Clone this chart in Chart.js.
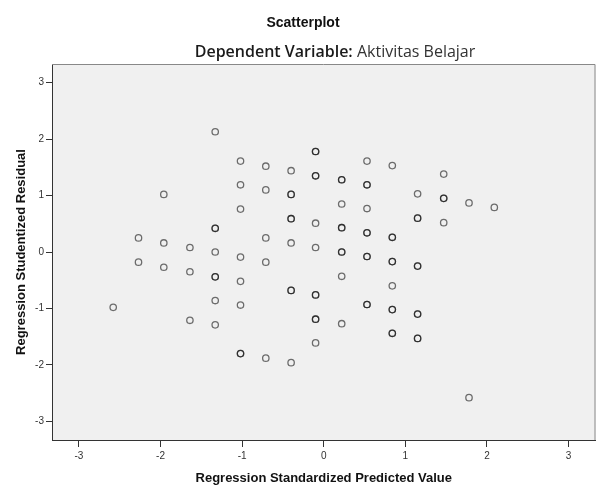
<!DOCTYPE html>
<html>
<head>
<meta charset="utf-8">
<script src="https://cdn.jsdelivr.net/npm/chart.js@4.4.0/dist/chart.umd.min.js"></script>
<style>
html, body { margin: 0; padding: 0; background: #fff; }
#wrap { width: 600px; height: 486px; position: relative; }
</style>
</head>
<body>
<div id="wrap"><canvas id="scatter"></canvas></div>
<script>
// x columns of predicted values, and the residuals found in each column
// (a value listed twice is two cases on the same spot, it shows darker)
var predictedCols = [-2.58, -2.27, -1.96, -1.64, -1.33, -1.02, -0.71, -0.40, -0.10, 0.22, 0.53, 0.84, 1.15, 1.47, 1.78, 2.09];
var residualCols = [
    [-0.98],
    [0.25, -0.18],
    [1.02, 0.16, -0.27],
    [0.08, -0.35, -1.21],
    [2.13, 0.42, 0.42, 0.00, -0.44, -0.44, -0.86, -1.29],
    [1.61, 1.19, 0.76, -0.09, -0.52, -0.94, -1.80, -1.80],
    [1.52, 1.10, 0.25, -0.18, -1.88],
    [1.44, 1.02, 1.02, 0.59, 0.59, 0.16, -0.68, -0.68, -1.96],
    [1.78, 1.78, 1.35, 1.35, 0.51, 0.08, -0.76, -0.76, -1.19, -1.19, -1.61],
    [1.28, 1.28, 0.85, 0.43, 0.43, 0.00, 0.00, -0.43, -1.27],
    [1.61, 1.19, 1.19, 0.77, 0.34, 0.34, -0.08, -0.08, -0.93, -0.93],
    [1.53, 0.26, 0.26, -0.17, -0.17, -0.60, -1.02, -1.02, -1.44, -1.44],
    [1.03, 0.60, 0.60, -0.25, -0.25, -1.10, -1.10, -1.53, -1.53],
    [1.38, 0.95, 0.95, 0.52],
    [0.87, -2.58],
    [0.79]
];
var tickValues = [-3, -2, -1, 0, 1, 2, 3];
var xRange = [-3.33, 3.33];
var yRange = [-3.33, 3.33];

var points = [];
for (var i = 0; i < predictedCols.length; i++) {
    for (var j = 0; j < residualCols[i].length; j++) {
        points.push({ x: predictedCols[i], y: residualCols[i][j] });
    }
}

var fontFam = '"Liberation Sans", Arial, sans-serif';

var frame = {
    id: 'frame',
    beforeDraw: function (chart) {
        var a = chart.chartArea, ctx = chart.ctx;
        ctx.save();
        ctx.fillStyle = '#f0f0f0';
        ctx.fillRect(a.left, a.top, a.right - a.left, a.bottom - a.top);
        ctx.restore();
    },
    afterDraw: function (chart) {
        var a = chart.chartArea, ctx = chart.ctx;
        ctx.save();
        ctx.strokeStyle = '#888';
        ctx.lineWidth = 1;
        ctx.beginPath();
        ctx.moveTo(a.left, a.top + 0.5);
        ctx.lineTo(a.right - 0.5, a.top + 0.5);
        ctx.lineTo(a.right - 0.5, a.bottom);
        ctx.stroke();

        // titles
        ctx.textBaseline = 'alphabetic';
        ctx.textAlign = 'center';
        ctx.fillStyle = '#111';
        ctx.font = 'bold 14px ' + fontFam;
        ctx.fillText('Scatterplot', 303, 27);

        var p1 = 'Dependent Variable:', p2 = ' Aktivitas Belajar';
        var f1 = '600 16px "Open Sans", sans-serif', f2 = '400 16px "Open Sans", sans-serif';
        ctx.font = f1;
        var w1 = ctx.measureText(p1).width;
        ctx.font = f2;
        var w2 = ctx.measureText(p2).width;
        var x0 = 335 - (w1 + w2) / 2;
        ctx.textAlign = 'left';
        ctx.font = f1;
        ctx.fillStyle = '#1a1a1a';
        ctx.fillText(p1, x0, 56.5);
        ctx.font = f2;
        ctx.fillStyle = '#333';
        ctx.fillText(p2, x0 + w1, 56.5);
        ctx.restore();
    }
};

var setTicks = function (scale) {
    scale.ticks = tickValues.map(function (v) { return { value: v }; });
};

var ctx = document.getElementById('scatter');
var chart = new Chart(ctx, {
    type: 'scatter',
    data: {
        datasets: [{
            data: points,
            pointStyle: 'circle',
            pointRadius: 3.2,
            pointHoverRadius: 3.2,
            pointBorderWidth: 1.3,
            pointBackgroundColor: 'rgba(0,0,0,0)',
            pointBorderColor: 'rgba(0,0,0,0.55)'
        }]
    },
    options: {
        responsive: true,
        maintainAspectRatio: false,
        animation: false,
        events: [],
        layout: { padding: { top: 64, right: 1, bottom: 0, left: 0 } },
        plugins: {
            legend: { display: false },
            title: { display: false },
            tooltip: { enabled: false }
        },
        scales: {
            x: {
                type: 'linear',
                position: 'bottom',
                min: xRange[0],
                max: xRange[1],
                afterBuildTicks: setTicks,
                afterFit: function (s) { s.height = 46; },
                grid: { drawOnChartArea: false, drawTicks: true, tickLength: 7, color: '#333' },
                border: { color: '#333', width: 1 },
                ticks: { font: { family: fontFam, size: 10 }, color: '#333', padding: 3, maxRotation: 0 },
                title: {
                    display: true,
                    text: 'Regression Standardized Predicted Value',
                    font: { family: fontFam, size: 13, weight: 'bold' },
                    color: '#111',
                    padding: { top: 7, bottom: 0 }
                }
            },
            y: {
                type: 'linear',
                position: 'left',
                min: yRange[0],
                max: yRange[1],
                afterBuildTicks: setTicks,
                afterFit: function (s) { s.width = 52; },
                grid: { drawOnChartArea: false, drawTicks: true, tickLength: 6, color: '#333' },
                border: { color: '#333', width: 1 },
                ticks: { font: { family: fontFam, size: 10 }, color: '#333', padding: 2 },
                title: {
                    display: true,
                    text: 'Regression Studentized Residual',
                    font: { family: fontFam, size: 13, weight: 'bold' },
                    color: '#111',
                    padding: { top: 14, bottom: 0 }
                }
            }
        }
    },
    plugins: [frame]
});
</script>
</body>
</html>
